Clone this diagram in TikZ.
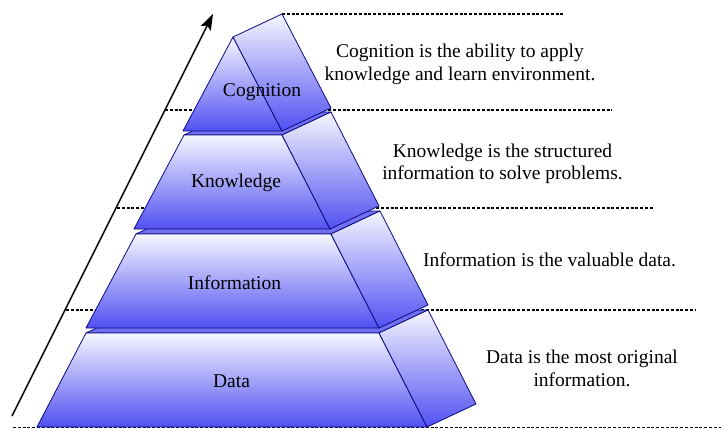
\documentclass[tikz,border=0pt]{standalone}
\usepackage{fontspec}
\setmainfont{Liberation Serif}
\usetikzlibrary{arrows.meta}

\definecolor{edgenavy}{RGB}{10,10,130}
\definecolor{faceLight}{RGB}{246,246,255}
\definecolor{faceDark}{RGB}{80,80,242}
\definecolor{bandBlue}{RGB}{112,112,240}

\tikzset{
  face/.style={draw=edgenavy, line width=0.8pt, line join=round,
               top color=faceLight, bottom color=faceDark},
  band/.style={draw=edgenavy, line width=0.8pt, line join=round, fill=bandBlue},
  guide/.style={draw=black, line width=1.3pt, dash pattern=on 3pt off 1.8pt},
  rise/.style={draw=black, line width=1.4pt,
               -{Stealth[length=16pt,width=11pt,inset=3pt]}},
  layerlabel/.style={inner sep=0pt, anchor=base,
               font=\fontsize{19.5}{22.5}\selectfont},
  desc/.style={inner sep=0pt, align=center,
               font=\fontsize{19.5}{22.5}\selectfont}
}

\begin{document}
\begin{tikzpicture}[x=1pt,y=-1pt]
\useasboundingbox (0,0) rectangle (721,428);

% level guides, drawn first so the pyramid covers them
\coordinate (g1a) at (282,14);    \coordinate (g1b) at (565,14);
\coordinate (g2a) at (165,110);   \coordinate (g2b) at (612,110);
\coordinate (g3a) at (117,208);   \coordinate (g3b) at (653,208);
\coordinate (g4a) at (66,310);    \coordinate (g4b) at (695,310);
\coordinate (g5a) at (13,427.3);  \coordinate (g5b) at (721,427.3);
\foreach \i in {1,...,5} \draw[guide] (g\i a) -- (g\i b);

% rising arrow along the left flank
\coordinate (arrowtail) at (12,416);
\coordinate (arrowtip) at (213,14);
\draw[rise] (arrowtail) -- (arrowtip);

% Data layer
\path[band] (86,333) -- (379,333) -- (428,310) -- (135,310) -- cycle;
\path[face] (86,333) -- (379,333) -- (427,427) -- (37,427) -- cycle;
\path[face] (379,333) -- (428,310) -- (476,404) -- (427,427) -- cycle;

% Information layer
\path[band] (136,234) -- (331,234) -- (380,211) -- (185,211) -- cycle;
\path[face] (136,234) -- (331,234) -- (379,328) -- (86,328) -- cycle;
\path[face] (331,234) -- (380,211) -- (428,305) -- (379,328) -- cycle;

% Knowledge layer
\path[band] (184,135) -- (282,135) -- (331,112) -- (233,112) -- cycle;
\path[face] (184,135) -- (282,135) -- (330,229) -- (134,229) -- cycle;
\path[face] (282,135) -- (331,112) -- (379,206) -- (330,229) -- cycle;

% Cognition layer (apex)
\path[face] (233,37) -- (282,131) -- (183,131) -- cycle;
\path[face] (233,37) -- (282,14) -- (331,108) -- (282,131) -- cycle;

% layer names
\node[layerlabel] (lcog)  at (262,97)    {Cognition};
\node[layerlabel] (lknow) at (236,187)   {Knowledge};
\node[layerlabel] (linfo) at (234.5,289) {Information};
\node[layerlabel] (ldata) at (231.5,387) {Data};

% descriptions
\node[desc] (dcog)  at (460,64.5)  {Cognition is the ability to apply\\knowledge and learn environment.};
\node[desc] (dknow) at (502.5,164) {Knowledge is the structured\\information to solve problems.};
\node[desc, anchor=base] (dinfo) at (549.5,266) {Information is the valuable data.};
\node[desc] (ddata) at (582,368.5) {Data is the most original\\information.};
\end{tikzpicture}
\end{document}
